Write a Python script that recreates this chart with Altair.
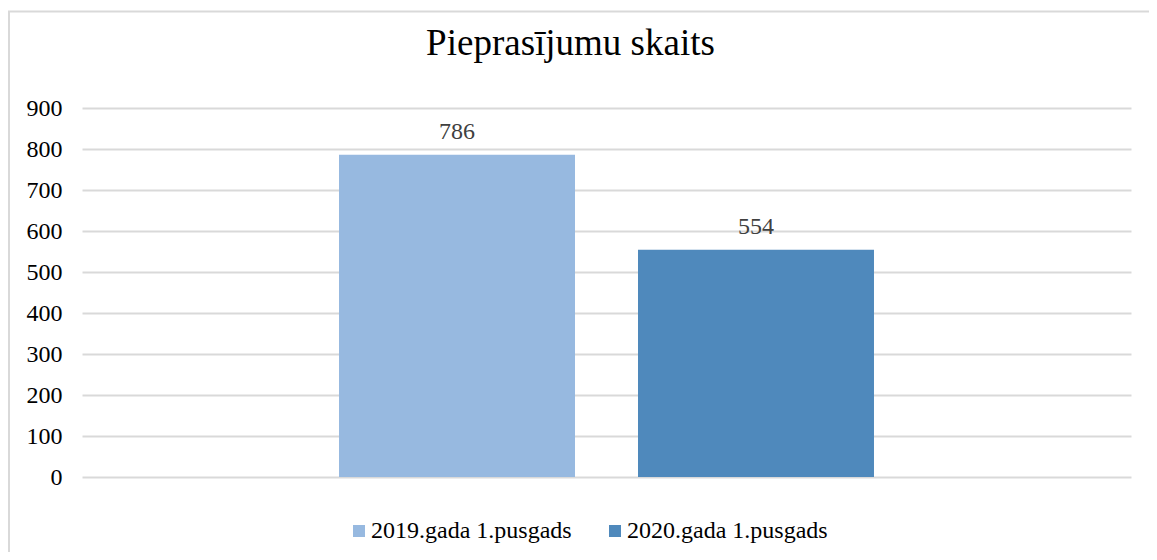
import altair as alt
import pandas as pd

series = ["2019.gada 1.pusgads", "2020.gada 1.pusgads"]
values = [786, 554]
colors = ["#97B9E0", "#4F89BC"]
y_ticks = [0, 100, 200, 300, 400, 500, 600, 700, 800, 900]
title_text = "Pieprasījumu skaits"

df = pd.DataFrame({"series": series, "value": values})
FONT = "Liberation Serif"

x_enc = alt.X("series:N", sort=series, axis=None,
              scale=alt.Scale(paddingInner=0.2107, paddingOuter=0.8596))
y_enc = alt.Y("value:Q",
              scale=alt.Scale(domain=[0, 900], nice=False),
              axis=alt.Axis(values=y_ticks, title=None, domain=False, ticks=False,
                            labelFont=FONT, labelFontSize=24, labelColor="#000000",
                            labelPadding=20, grid=True, gridColor="#d9d9d9",
                            gridWidth=2))

one = alt.Data(values=[{"a": 1}])
border_left = alt.Chart(one).mark_rule(stroke="#d9d9d9", strokeWidth=2).encode(
    x=alt.value(-73), y=alt.value(-97), y2=alt.value(452))
border_top = alt.Chart(one).mark_rule(stroke="#d9d9d9", strokeWidth=2).encode(
    x=alt.value(-74), x2=alt.value(1067), y=alt.value(-96.5))

bars = alt.Chart(df).mark_bar().encode(
    x=x_enc,
    y=y_enc,
    color=alt.Color("series:N", sort=series,
                    scale=alt.Scale(domain=series, range=colors),
                    legend=alt.Legend(title=None, orient="none", direction="horizontal",
                                      legendX=265, legendY=411, symbolType="square",
                                      symbolSize=144, symbolStrokeWidth=0,
                                      labelFont=FONT, labelFontSize=24,
                                      labelColor="#000000", labelOffset=0,
                                      columnPadding=31, padding=0, labelLimit=400)),
)

labels = alt.Chart(df).mark_text(
    font=FONT, fontSize=24, color="#404040", baseline="alphabetic", dy=-16
).encode(x=alt.X("series:N", sort=series, axis=None), y="value:Q", text="value:Q")

chart = alt.layer(border_left, border_top, bars, labels).properties(
    width=1049, height=369,
    background="#ffffff",
    title=alt.TitleParams(title_text, font=FONT, fontSize=37, fontWeight="normal",
                          color="#000000", dx=-36, offset=0, dy=82,
                          baseline="alphabetic", anchor="middle", frame="group"),
    autosize=alt.AutoSizeParams(type="none"),
    padding={"left": 74, "top": 100, "right": 18, "bottom": 75},
).configure_view(strokeWidth=0, stroke="transparent")

chart.save("out.html", embed_options={"renderer": "svg", "actions": False})
